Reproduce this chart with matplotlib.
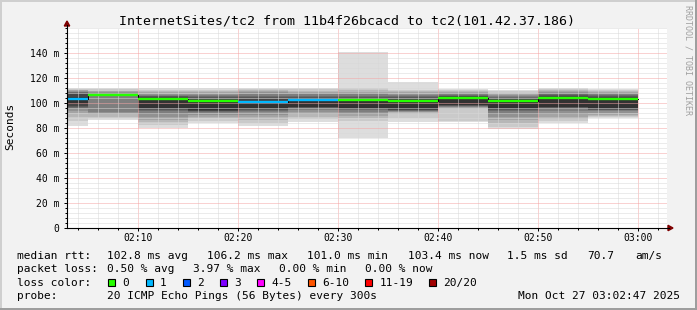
import numpy as np
import matplotlib.pyplot as plt
from matplotlib.patches import Rectangle, Polygon

W, H = 697, 310
plt.rcParams['font.family'] = ['DejaVu Sans Mono']

title = "InternetSites/tc2 from 11b4f26bcacd to tc2(101.42.37.186)"

# 5 minute steps (start time of each step)
step_start = ["02:00", "02:05", "02:10", "02:15", "02:20", "02:25",
              "02:30", "02:35", "02:40", "02:45", "02:50", "02:55"]
# median round trip time per step, ms
median_rtt = [103.4, 106.2, 103.4, 101.8, 101.0, 102.4,
              102.4, 101.8, 104.2, 101.8, 104.2, 103.4]
# lost pings per step (out of 20)
lost_pings = [1, 0, 0, 0, 1, 1, 0, 0, 0, 0, 0, 0]
# the 20 sorted ping times per step, ms (smoke)
smoke_pings = [
    [81.6, 86.0, 89.0, 92.0, 94.0, 95.5, 96.3, 96.8, 97.5, 99.0,
     105.0, 107.0, 107.8, 108.4, 109.0, 109.6, 110.2, 110.8, 111.5, 112.2],
    [86.4, 88.0, 89.0, 91.0, 92.0, 93.0, 105.5, 105.8, 106.0, 106.1,
     106.3, 106.6, 107.0, 107.5, 108.0, 108.6, 109.3, 110.0, 111.0, 111.8],
    [79.8, 82.4, 84.5, 86.4, 88.5, 91.0, 93.5, 94.5, 95.3, 96.0,
     104.2, 105.0, 105.5, 106.0, 106.5, 107.5, 108.5, 109.5, 110.8, 111.8],
    [84.2, 86.0, 87.7, 89.0, 90.5, 91.8, 92.8, 93.5, 94.0, 94.5,
     102.3, 103.5, 104.5, 105.5, 106.5, 107.5, 108.5, 109.5, 110.8, 111.8],
    [81.6, 84.0, 86.4, 88.5, 90.5, 92.5, 94.0, 94.8, 95.3, 95.8,
     101.8, 103.0, 104.5, 106.0, 107.5, 108.5, 109.5, 110.5, 111.5, 112.2],
    [85.0, 87.0, 89.0, 91.0, 93.0, 94.8, 95.6, 96.2, 96.6, 97.0,
     103.0, 104.0, 105.0, 106.0, 107.0, 108.0, 109.0, 110.0, 111.0, 111.8],
    [71.8, 86.0, 88.0, 89.5, 91.5, 93.0, 94.2, 95.0, 95.5, 96.0,
     103.0, 104.0, 105.0, 106.0, 107.0, 108.0, 109.0, 110.5, 111.8, 140.6],
    [85.0, 88.0, 91.0, 92.5, 93.0, 93.5, 94.0, 94.4, 94.7, 95.0,
     102.5, 103.5, 104.5, 105.5, 106.5, 107.5, 108.5, 109.5, 110.4, 116.6],
    [84.8, 85.5, 95.5, 96.3, 96.8, 97.2, 97.5, 97.8, 98.1, 98.4,
     105.0, 105.5, 106.0, 106.6, 107.2, 107.8, 108.5, 109.3, 110.2, 111.0],
    [79.0, 81.0, 84.0, 86.4, 89.0, 91.5, 93.5, 94.8, 95.3, 95.8,
     102.5, 103.2, 104.2, 105.0, 105.8, 106.6, 107.4, 108.3, 109.3, 110.4],
    [83.8, 85.5, 87.5, 89.0, 91.5, 94.0, 95.5, 96.0, 96.5, 97.0,
     105.0, 105.6, 106.3, 107.0, 107.8, 108.6, 109.4, 110.2, 111.0, 111.8],
    [87.8, 88.8, 89.8, 90.6, 92.0, 93.5, 94.3, 94.8, 95.3, 95.8,
     104.0, 104.6, 105.4, 106.2, 107.0, 107.8, 108.6, 109.4, 110.2, 111.0],
]

xtick_labels = ["02:10", "02:20", "02:30", "02:40", "02:50", "03:00"]
ytick_values = [0, 20, 40, 60, 80, 100, 120, 140]
ytick_labels = ["0", "20 m", "40 m", "60 m", "80 m", "100 m", "120 m", "140 m"]

loss_labels = ["0", "1", "2", "3", "4-5", "6-10", "11-19", "20/20"]
loss_colors = ["#26ff00", "#00b8ff", "#0059ff", "#7e00ff",
               "#ff00ff", "#ff5500", "#ff0000", "#a10000"]

rtt_row = ["102.8 ms avg", "106.2 ms max", "101.0 ms min", "103.4 ms now",
           "1.5 ms sd", "70.7", "am/s"]
loss_row = ["0.50 % avg", "3.97 % max", "0.00 % min", "0.00 % now"]
probe_text = "20 ICMP Echo Pings (56 Bytes) every 300s"
stamp = "Mon Oct 27 03:02:47 2025"


def minutes(s):
    h, m = s.split(":")
    return int(h) * 60 + int(m)


t0 = np.array([minutes(s) for s in step_start], dtype=float)
pings = np.array(smoke_pings)
n = pings.shape[1]
half = n // 2
x_start = minutes("02:02") + 54 / 60.0

fig = plt.figure(figsize=(W / 100, H / 100), dpi=100, facecolor="#f2f2f2")
ax = fig.add_axes([67 / W, (H - 228) / H, 600 / W, 200 / H])
ax.set_facecolor("white")

# smoke: band i spans ping i .. ping n+1-i, inner bands darker
for i in range(1, half + 1):
    g = int(190 / half * (half - i)) + 50
    col = "#%02x%02x%02x" % (g, g, g)
    lo = pings[:, i - 1]
    hi = pings[:, n - i]
    ax.bar(t0, hi - lo, bottom=lo, width=5, align="edge", color=col,
           linewidth=0, zorder=1)

# median line
edges = np.append(t0, t0[-1] + 5)
ax.step(edges, np.append(median_rtt, median_rtt[-1]), where="post",
        color="black", lw=0.7, zorder=3)
ax.hlines(median_rtt, t0, t0 + 5, colors=[loss_colors[k] for k in lost_pings],
          lw=1.7, zorder=4)

ax.set_xlim(x_start, x_start + 60)
ax.set_ylim(0, 160)
ax.set_xticks([minutes(s) for s in xtick_labels])
ax.set_xticklabels(xtick_labels)
ax.set_xticks(np.arange(minutes("02:04"), minutes("03:03"), 2), minor=True)
ax.set_yticks(ytick_values)
ax.set_yticklabels(ytick_labels)
ax.set_yticks(np.arange(0, 161, 4), minor=True)

ax.set_axisbelow(False)
ax.grid(which="minor", color="#d8d8d8", ls=(0, (1, 1)), lw=0.72)
ax.grid(which="major", color="#f4a4a4", ls=(0, (1, 1)), lw=0.72)
for s in ax.spines.values():
    s.set_visible(False)
ax.tick_params(which="major", direction="out", length=2.2, width=0.72,
               labelsize=7, pad=3.2)
ax.tick_params(which="minor", direction="out", length=1.4, width=0.72)
ax.tick_params(axis="x", which="major", pad=1.6)

# decorations in pixel coordinates
ov = fig.add_axes([0, 0, 1, 1])
ov.set_xlim(0, W)
ov.set_ylim(H, 0)
ov.axis("off")
ov.patch.set_alpha(0)

ov.plot([67, 669], [228, 228], color="black", lw=0.8)
ov.plot([67, 67], [228, 25], color="black", lw=0.8)
ov.add_patch(Polygon([[64.3, 26], [69.7, 26], [67, 21]], color="#7f0000"))
ov.add_patch(Polygon([[668, 225.3], [668, 230.7], [673, 228]], color="#7f0000"))

ov.add_patch(Rectangle((0, 0), W, 2, color="#cfcfcf", lw=0))
ov.add_patch(Rectangle((0, 0), 2, H, color="#cfcfcf", lw=0))
ov.add_patch(Rectangle((0, H - 2), W, 2, color="#9e9e9e", lw=0))
ov.add_patch(Rectangle((W - 2, 0), 2, H, color="#9e9e9e", lw=0))

ov.text(347, 24, title, fontsize=9.5, ha="center", va="baseline")
ov.text(10, 126, "Seconds", fontsize=8, rotation=90, ha="center", va="center")
ov.text(688, 5, "RRDTOOL / TOBI OETIKER", fontsize=6, rotation=270,
        ha="center", va="top", color="#a0a0a0")

fs = 8
ov.text(16.7, 259, "median rtt:", fontsize=fs, va="baseline")
for x, s in zip([107.3, 207.3, 307.3, 407.8, 507.3, 587, 635.7], rtt_row):
    ov.text(x, 259, s, fontsize=fs, va="baseline")

ov.text(16.7, 272.3, "packet loss:", fontsize=fs, va="baseline")
for k, s in enumerate(loss_row):
    ov.text(107.3 + 86 * k, 272.3, s, fontsize=fs, va="baseline")

ov.text(16.7, 285.6, "loss color:", fontsize=fs, va="baseline")
bx = 108.3
for lab, col in zip(loss_labels, loss_colors):
    ov.add_patch(Rectangle((bx, 278.8), 7, 7, facecolor=col,
                           edgecolor="black", lw=0.8))
    ov.text(bx + 14.4, 285.6, lab, fontsize=fs, va="baseline")
    bx += 30.6 + 6.67 * len(lab)

ov.text(16.7, 299, "probe:", fontsize=fs, va="baseline")
ov.text(107.3, 299, probe_text, fontsize=fs, va="baseline")
ov.text(680, 299, stamp, fontsize=fs, va="baseline", ha="right")

fig.savefig("out.png", dpi=100, facecolor=fig.get_facecolor())
